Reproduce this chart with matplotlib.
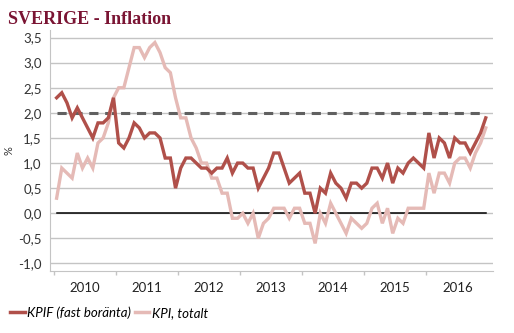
import numpy as np
import matplotlib
matplotlib.use('Agg')
import matplotlib.pyplot as plt
from matplotlib.lines import Line2D

# monthly values, Jan 2010 - Dec 2016
kpif = [2.3, 2.4, 2.2, 1.9, 2.1, 1.9, 1.7, 1.5, 1.8, 1.8, 1.9, 2.3,
        1.4, 1.3, 1.5, 1.8, 1.7, 1.5, 1.6, 1.6, 1.5, 1.1, 1.1, 0.5,
        0.9, 1.1, 1.1, 1.0, 0.9, 0.9, 0.8, 0.9, 0.9, 1.1, 0.8, 1.0,
        1.0, 0.9, 0.9, 0.5, 0.7, 0.9, 1.2, 1.2, 0.9, 0.6, 0.7, 0.8,
        0.4, 0.4, 0.0, 0.5, 0.4, 0.8, 0.6, 0.5, 0.3, 0.6, 0.6, 0.5,
        0.6, 0.9, 0.9, 0.7, 1.0, 0.6, 0.9, 0.8, 1.0, 1.1, 1.0, 0.9,
        1.6, 1.1, 1.5, 1.4, 1.1, 1.5, 1.4, 1.4, 1.2, 1.4, 1.6, 1.9]
kpi = [0.3, 0.9, 0.8, 0.7, 1.2, 0.9, 1.1, 0.9, 1.4, 1.5, 1.8, 2.3,
       2.5, 2.5, 2.9, 3.3, 3.3, 3.1, 3.3, 3.4, 3.2, 2.9, 2.8, 2.3,
       1.9, 1.9, 1.5, 1.3, 1.0, 1.0, 0.7, 0.7, 0.4, 0.4, -0.1, -0.1,
       0.0, -0.2, 0.0, -0.5, -0.2, -0.1, 0.1, 0.1, 0.1, -0.1, 0.1, 0.1,
       -0.2, -0.2, -0.6, 0.0, -0.2, 0.2, 0.0, -0.2, -0.4, -0.1, -0.2, -0.3,
       -0.2, 0.1, 0.2, -0.2, 0.1, -0.4, -0.1, -0.2, 0.1, 0.1, 0.1, 0.1,
       0.8, 0.4, 0.8, 0.8, 0.6, 1.0, 1.1, 1.1, 0.9, 1.2, 1.4, 1.7]
years = ['2010', '2011', '2012', '2013', '2014', '2015', '2016']
inflation_target = 2.0

dark = '#b0504a'
light = '#e5bab6'
grid_c = '#c4c4c4'

plt.rcParams['font.family'] = ['Lato', 'DejaVu Sans']

fig = plt.figure(figsize=(5.14, 3.33), dpi=100)
ax = fig.add_axes([50/514, 62/333, 443/514, 241/333])

n = len(kpif)
x = np.arange(n)

ax.set_ylim(-1.15, 3.65)
ax.set_xlim(-1.28, 84.4)
yt = np.arange(-1.0, 3.51, 0.5)
ax.set_yticks(yt)
ax.set_yticklabels([('%.1f' % v).replace('.', ',') for v in yt], fontsize=9.5, color='#333333')
for v in yt:
    ax.axhline(v, color=grid_c, lw=1, zorder=1)

ax.plot([0, n - 1], [0, 0], color='black', lw=1.1, zorder=2)
ax.plot([0, n - 1], [inflation_target] * 2, color='#606060', lw=2.2, ls=(0, (3, 2.2)), zorder=2)

ax.plot(x, kpi, color=light, lw=2.4, zorder=3, solid_joinstyle='miter')
ax.plot(x, kpif, color=dark, lw=2.4, zorder=4, solid_joinstyle='miter')

# year ticks on boundaries, labels in the middle
ax.set_xticks(np.arange(len(years)) * 12 - 0.5)
ax.set_xticklabels([])
ax.set_xticks(np.arange(len(years)) * 12 + 5.5, minor=True)
ax.set_xticklabels(years, minor=True, fontsize=9.5, color='#222222')
ax.tick_params(axis='x', which='major', length=3, color=grid_c, width=1)
ax.tick_params(axis='x', which='minor', length=0, pad=8)
ax.tick_params(axis='y', length=0, pad=6)

for s in ['top', 'right']:
    ax.spines[s].set_visible(False)
ax.spines['left'].set_color(grid_c)
ax.spines['bottom'].set_color(grid_c)

ax.set_ylabel('%', fontsize=8, color='#333333', labelpad=3)

fig.text(8/514, 1 - 24/333, 'SVERIGE - Inflation', fontsize=13, fontweight='bold',
         family='Liberation Serif', color='#7a1433')

handles = [Line2D([], [], color=dark, lw=2.5), Line2D([], [], color=light, lw=2.5)]
fig.legend(handles, ['KPIF (fast boränta)', 'KPI, totalt'], loc='lower left',
           bbox_to_anchor=(10/514, 14/333), ncol=2, frameon=False,
           prop={'size': 9.5, 'style': 'italic'}, handlelength=1.1,
           handletextpad=0.2, columnspacing=0.3, borderpad=0, borderaxespad=0)

fig.savefig('out.png', dpi=100)
